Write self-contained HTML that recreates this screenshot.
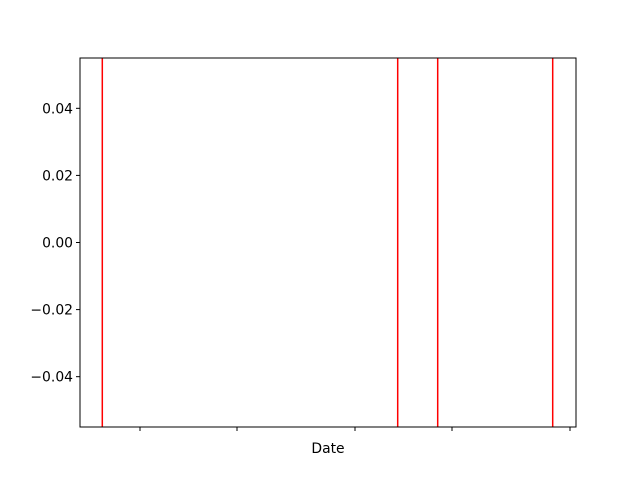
<!DOCTYPE html>
<html><head><meta charset="utf-8"><style>
body{margin:0;background:#fff;font-family:"Liberation Sans","DejaVu Sans",sans-serif}
svg text{font-family:"DejaVu Sans","Liberation Sans",sans-serif;font-size:13.9px;fill:#000}
</style></head><body>
<svg id="chart" width="640" height="480" xmlns="http://www.w3.org/2000/svg">
<rect width="640" height="480" fill="#fff"/>
<g id="marks"></g>
<g id="axes"></g>
<text x="328" y="453" text-anchor="middle">Date</text>
</svg>
<script>
const eventDays = [22.3, 317.7, 357.7, 472.7];
const xTickDays = [60, 157, 275, 372, 490];
const yTicks = [0.04, 0.02, 0.00, -0.02, -0.04];
const yTickLabels = ["0.04", "0.02", "0.00", "\u22120.02", "\u22120.04"];
const xDomain = [0, 496], yDomain = [-0.055, 0.055];
const L = 80, R = 576, T = 58, B = 427;
const sx = v => L + (v - xDomain[0]) / (xDomain[1] - xDomain[0]) * (R - L);
const sy = v => B - (v - yDomain[0]) / (yDomain[1] - yDomain[0]) * (B - T);
const NS = "http://www.w3.org/2000/svg";
const marks = document.getElementById('marks'), axes = document.getElementById('axes');
function mk(tag, attrs, parent) { const e = document.createElementNS(NS, tag); for (const k in attrs) e.setAttribute(k, attrs[k]); parent.appendChild(e); return e; }
eventDays.forEach((d) => {
  const l = mk('line', {x1: sx(d), x2: sx(d), y1: T, y2: B, stroke: '#ff0000', 'stroke-width': 1.5}, marks);
  
  
});
const frame = mk('rect', {x: L, y: T, width: R - L, height: B - T, fill: 'none', stroke: '#000', 'stroke-width': 1}, axes);


xTickDays.forEach(d => {
  const t = mk('line', {x1: sx(d), x2: sx(d), y1: B, y2: B + 4, stroke: '#000', 'stroke-width': 1}, axes);
  
  
});
yTicks.forEach((v, i) => {
  const y = sy(v);
  const t = mk('line', {x1: L - 4, x2: L, y1: y, y2: y, stroke: '#000', 'stroke-width': 1}, axes);
  
  
  const tx = mk('text', {x: L - 7, y: y + 5, 'text-anchor': 'end'}, axes);
  tx.textContent = yTickLabels[i];
  
  
});
</script>
</body></html>
